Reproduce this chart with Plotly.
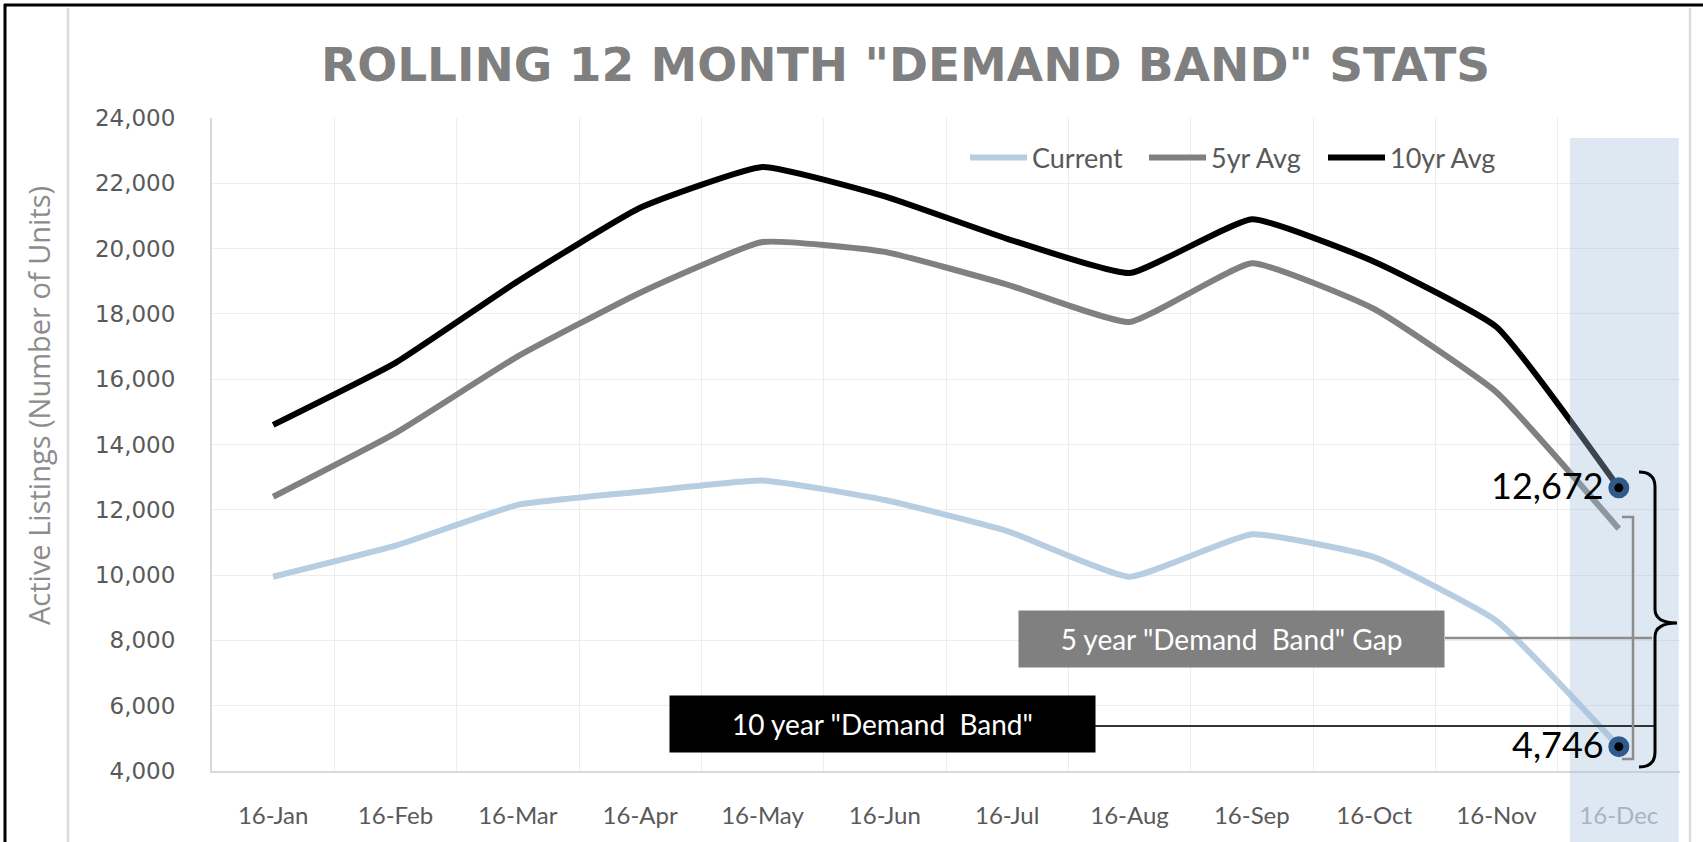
import plotly.graph_objects as go

# ---------------- data ----------------
months = ["16-Jan", "16-Feb", "16-Mar", "16-Apr", "16-May", "16-Jun",
          "16-Jul", "16-Aug", "16-Sep", "16-Oct", "16-Nov", "16-Dec"]
current = [9950, 10900, 12150, 12550, 12900, 12300, 11350, 9950, 11250, 10550, 8600, 4746]
five_yr = [12400, 14350, 16700, 18650, 20200, 19900, 18900, 17750, 19550, 18150, 15600, 11420]
ten_yr = [14600, 16500, 19000, 21250, 22500, 21600, 20300, 19250, 20900, 19600, 17600, 12672]
y_ticks = list(range(4000, 24001, 2000))
series_names = ["Current", "5yr Avg", "10yr Avg"]
series_colors = ["#b7cde2", "#808080", "#000000"]

title_text = 'ROLLING 12 MONTH "DEMAND BAND" STATS'
y_title = "Active Listings (Number of Units)"
box5_text = '5 year "Demand  Band" Gap'
box10_text = '10 year "Demand  Band"'

# ---------------- layout geometry (pixels) ----------------
W, H = 1703, 842
L, R, T, B = 212, 1680, 118, 771


def fx(px):
    return (px - L) / (R - L)


def fy(py):
    return (B - py) / (B - T)


x_idx = list(range(len(months)))
tick_text = [m for m in months[:-1]] + [f'<span style="color:#a9adb3">{months[-1]}</span>']

fig = go.Figure()
for name, vals, col in zip(series_names, [current, five_yr, ten_yr], series_colors):
    fig.add_trace(go.Scatter(
        x=x_idx, y=vals, name=name, mode="lines",
        line=dict(color=col, width=6, shape="spline", smoothing=0.4),
        hoverinfo="skip"))

shapes = []
# December highlight band (semi-transparent, above lines)
shapes.append(dict(type="rect", xref="x", yref="paper",
                   x0=10.6, x1=11.49, y0=fy(842), y1=fy(138),
                   fillcolor="rgba(161,192,222,0.36)", line=dict(width=0), layer="above"))

# markers at the last point of 10yr and current
for v in (ten_yr[-1], current[-1]):
    shapes.append(dict(type="circle", xref="x", yref="y",
                       xsizemode="pixel", ysizemode="pixel",
                       xanchor=x_idx[-1], yanchor=v,
                       x0=-7.5, x1=7.5, y0=-7.5, y1=7.5,
                       fillcolor="black", line=dict(color="#2f5a8a", width=6),
                       layer="above"))

# connectors
shapes.append(dict(type="line", xref="paper", yref="paper",
                   x0=fx(1445), x1=fx(1652), y0=fy(638), y1=fy(638),
                   line=dict(color="#8c8c8c", width=2.5), layer="above"))
shapes.append(dict(type="line", xref="paper", yref="paper",
                   x0=fx(1095), x1=fx(1655), y0=fy(726), y1=fy(726),
                   line=dict(color="#333333", width=2), layer="above"))

# gray square bracket
gb = "M {},{} L {},{} L {},{} L {},{}".format(
    fx(1622), fy(517), fx(1633), fy(517), fx(1633), fy(759), fx(1622), fy(759))
shapes.append(dict(type="path", xref="paper", yref="paper", path=gb,
                   line=dict(color="#8c8c8c", width=2.5), layer="above"))

# curly brace
cb = ("M {a},{t} Q {v},{t} {v},{t2} L {v},{m1} Q {v},{m} {tip},{m} "
      "Q {v},{m} {v},{m2} L {v},{b2} Q {v},{b} {a},{b}").format(
    a=fx(1639), v=fx(1655), tip=fx(1677),
    t=fy(472), t2=fy(487), m1=fy(609), m=fy(623), m2=fy(637), b2=fy(752), b=fy(767))
shapes.append(dict(type="path", xref="paper", yref="paper", path=cb,
                   line=dict(color="black", width=3), layer="above"))

# outer frame
shapes.append(dict(type="line", xref="paper", yref="paper",
                   x0=fx(4), x1=fx(1703), y0=fy(5), y1=fy(5),
                   line=dict(color="black", width=3), layer="above"))
shapes.append(dict(type="line", xref="paper", yref="paper",
                   x0=fx(5), x1=fx(5), y0=fy(4), y1=fy(842),
                   line=dict(color="black", width=3), layer="above"))
for gx in (68, 1690):
    shapes.append(dict(type="line", xref="paper", yref="paper",
                       x0=fx(gx), x1=fx(gx), y0=fy(8), y1=fy(842),
                       line=dict(color="#dcdcdc", width=2.5), layer="above"))

annotations = []
annotations.append(dict(text=title_text, xref="paper", yref="paper",
                        x=fx(905), y=fy(65), xanchor="center", yanchor="middle",
                        showarrow=False,
                        font=dict(family="DejaVu Sans", size=47, color="#7f7f7f", weight="bold")))
annotations.append(dict(text=y_title, xref="paper", yref="paper",
                        x=fx(38), y=fy(406), xanchor="center", yanchor="middle",
                        textangle=-90, showarrow=False,
                        font=dict(family="Open Sans", size=29, color="#8c8c8c")))
for v in (ten_yr[-1], current[-1]):
    annotations.append(dict(text=f"{v:,}", xref="x", yref="y",
                            x=x_idx[-1], y=v, xanchor="right", yanchor="middle",
                            xshift=-13, yshift=3, showarrow=False,
                            font=dict(family="Lato", size=36, color="black")))
annotations.append(dict(text=box5_text, xref="paper", yref="paper",
                        x=fx(1231), y=fy(639), xanchor="center", yanchor="middle",
                        showarrow=False, bgcolor="#808080", width=419, height=50, borderpad=3,
                        font=dict(family="Lato", size=28, color="white")))
annotations.append(dict(text=box10_text, xref="paper", yref="paper",
                        x=fx(882), y=fy(724), xanchor="center", yanchor="middle",
                        showarrow=False, bgcolor="#000000", width=419, height=50, borderpad=3,
                        font=dict(family="Lato", size=28, color="white")))

fig.update_layout(
    width=W, height=H,
    margin=dict(l=L, r=W - R, t=T, b=H - B, pad=0),
    paper_bgcolor="white", plot_bgcolor="white",
    showlegend=True,
    legend=dict(orientation="h", x=fx(965), y=fy(158), xanchor="left", yanchor="middle",
                font=dict(family="Lato", size=27, color="#595959"),
                itemwidth=57, entrywidth=107, bgcolor="rgba(0,0,0,0)", tracegroupgap=0),
    shapes=shapes,
    annotations=annotations,
    xaxis=dict(range=[-0.5, 11.5], tickmode="array", tickvals=x_idx, ticktext=tick_text,
               showgrid=False, zeroline=False, showline=True, linecolor="#d9d9d9", linewidth=2,
               ticks="", ticklabelstandoff=22,
               tickfont=dict(family="Lato", size=24, color="#595959"),
               minor=dict(tickmode="array", tickvals=[i + 0.5 for i in x_idx[:-1]],
                          showgrid=True, gridcolor="#ededed", gridwidth=1, ticks="")),
    yaxis=dict(range=[4000, 24000], tickmode="array", tickvals=y_ticks, tickformat=",",
               showgrid=True, gridcolor="#ededed", gridwidth=1, zeroline=False,
               showline=True, linecolor="#d9d9d9", linewidth=2, ticks="",
               ticklabelstandoff=30,
               tickfont=dict(family="DejaVu Sans", size=23, color="#595959")),
)

fig.write_html("out.html", config={"displayModeBar": False},
               post_script="document.body.style.margin='0px';")
